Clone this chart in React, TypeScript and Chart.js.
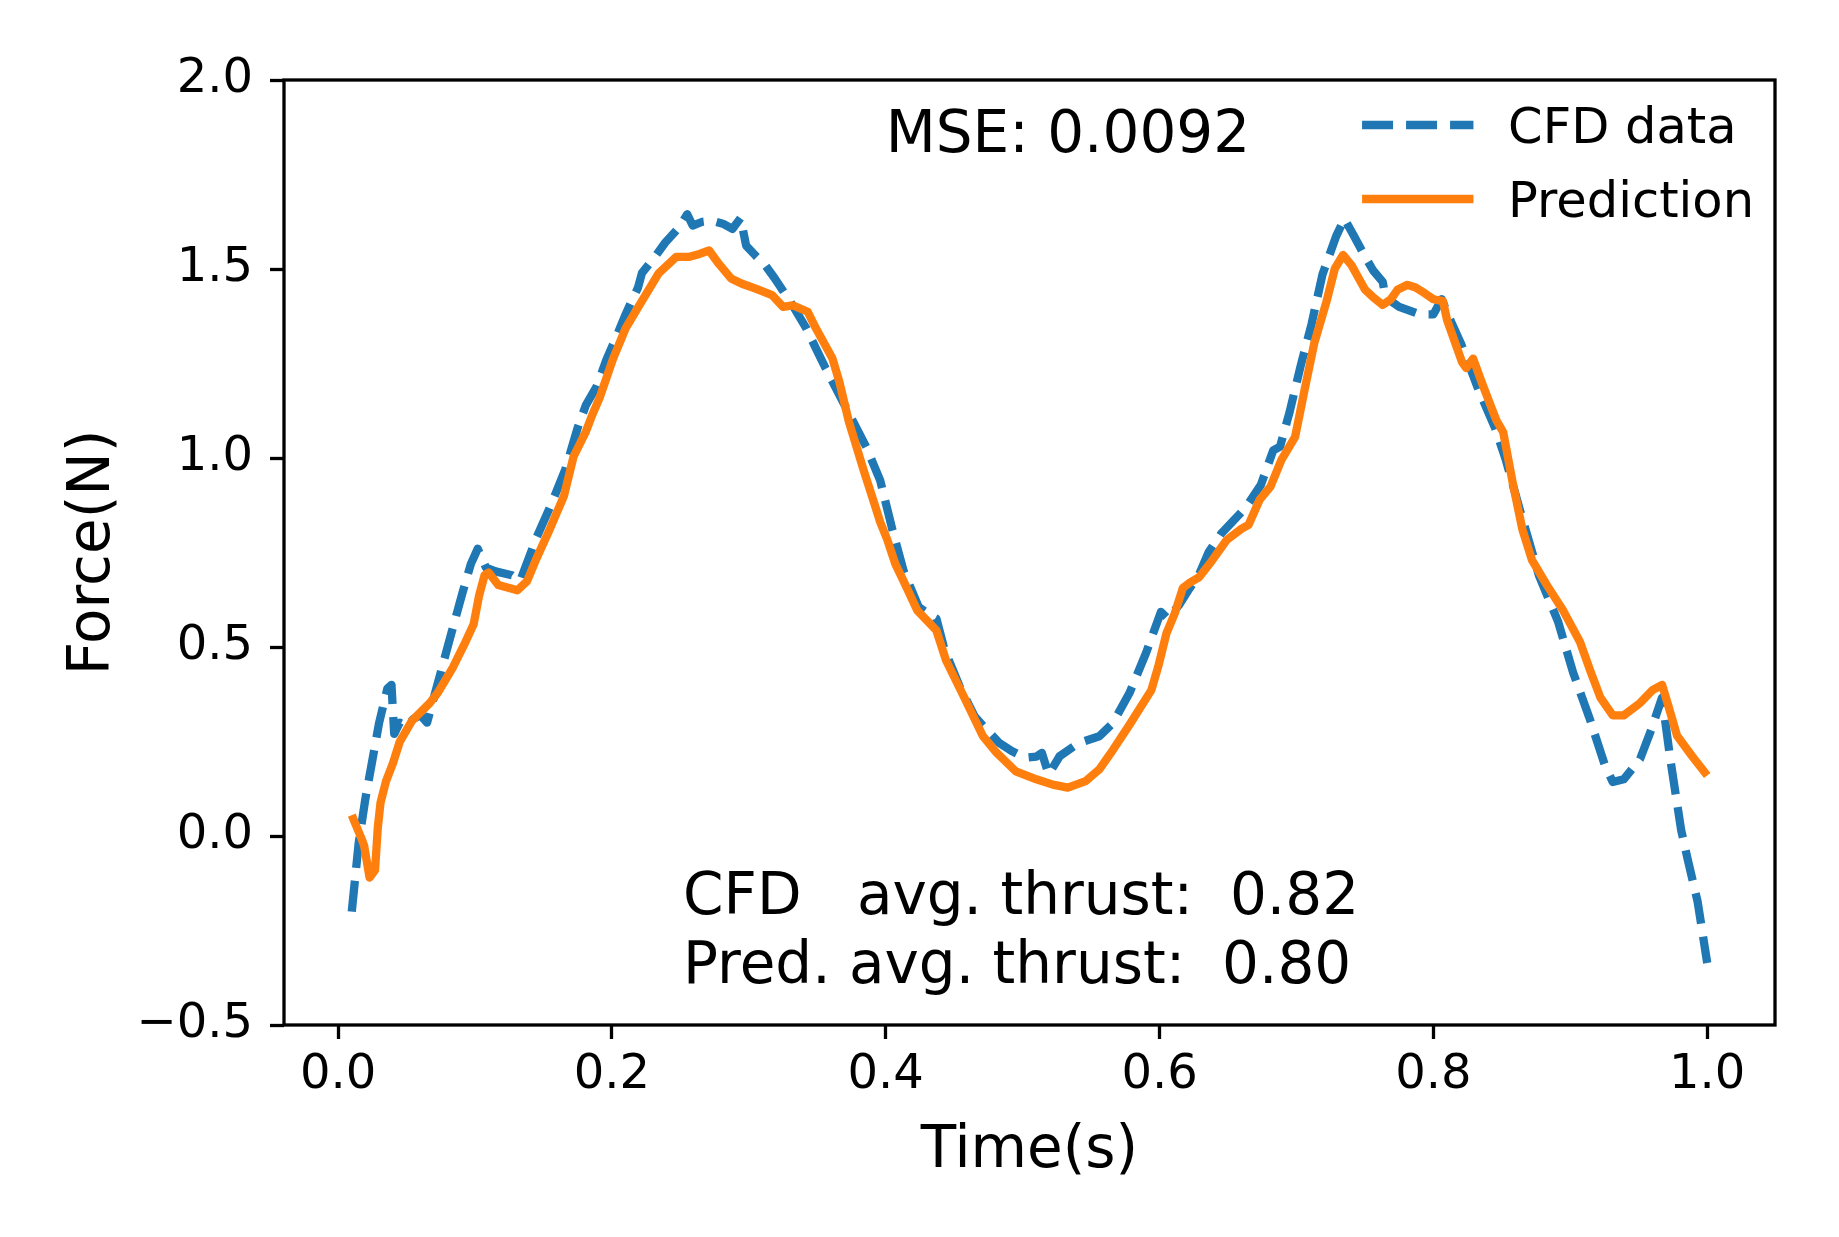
import { useEffect, useRef } from 'react';
import { Chart, registerables } from 'chart.js';

Chart.register(...registerables);

// values
const cfdTime = [
  0.010, 0.015, 0.020, 0.025, 0.030,
  0.036, 0.039, 0.041, 0.045, 0.050,
  0.055, 0.060, 0.065, 0.074, 0.083,
  0.091, 0.097, 0.102, 0.108, 0.115,
  0.127, 0.133, 0.145, 0.156, 0.166,
  0.175, 0.181, 0.189, 0.196, 0.202,
  0.210, 0.215, 0.219, 0.222, 0.231,
  0.239, 0.249, 0.255, 0.259, 0.266,
  0.273, 0.281, 0.288, 0.294, 0.298,
  0.305, 0.312, 0.319, 0.332, 0.342,
  0.349, 0.356, 0.371, 0.386, 0.396,
  0.405, 0.413, 0.424, 0.432, 0.437,
  0.443, 0.454, 0.465, 0.474, 0.483,
  0.492, 0.502, 0.510, 0.514, 0.519,
  0.527, 0.541, 0.556, 0.566, 0.578,
  0.590, 0.601, 0.606, 0.614, 0.621,
  0.629, 0.636, 0.645, 0.655, 0.663,
  0.674, 0.679, 0.683, 0.688, 0.695,
  0.703, 0.711, 0.719, 0.729, 0.735,
  0.742, 0.749, 0.756, 0.763, 0.765,
  0.775, 0.790, 0.800, 0.806, 0.813,
  0.820, 0.833, 0.845, 0.853, 0.863,
  0.877, 0.891, 0.902, 0.914, 0.925,
  0.931, 0.939, 0.951, 0.959, 0.967,
  0.973, 0.981, 0.986, 0.993, 1.000,
];
const cfdForce = [
  -0.20, -0.02, 0.10, 0.20, 0.30,
  0.39, 0.40, 0.27, 0.30, 0.29,
  0.31, 0.32, 0.30, 0.42, 0.54,
  0.645, 0.72, 0.76, 0.71, 0.70,
  0.69, 0.675, 0.79, 0.88, 0.97,
  1.08, 1.14, 1.19, 1.26, 1.31,
  1.38, 1.42, 1.45, 1.49, 1.53,
  1.57, 1.61, 1.645, 1.615, 1.625,
  1.628, 1.62, 1.606, 1.635, 1.562,
  1.535, 1.51, 1.475, 1.404, 1.343,
  1.29, 1.238, 1.133, 1.027, 0.94,
  0.808, 0.702, 0.606, 0.585, 0.575,
  0.492, 0.395, 0.316, 0.28, 0.246,
  0.225, 0.207, 0.21, 0.22, 0.163,
  0.211, 0.246, 0.264, 0.299, 0.378,
  0.483, 0.593, 0.575, 0.61, 0.65,
  0.693, 0.752, 0.80, 0.838, 0.869,
  0.929, 0.98, 1.02, 1.03, 1.122,
  1.243, 1.354, 1.486, 1.587, 1.633,
  1.587, 1.54, 1.496, 1.466, 1.425,
  1.40, 1.38, 1.38, 1.42, 1.36,
  1.304, 1.18, 1.08, 0.994, 0.865,
  0.69, 0.568, 0.433, 0.312, 0.19,
  0.143, 0.15, 0.204, 0.28, 0.366,
  0.204, 0.015, -0.066, -0.174, -0.336,
];

const predTime = [
  0.010, 0.017, 0.019, 0.023, 0.027, 0.029,
  0.031, 0.035, 0.040, 0.045, 0.054, 0.067,
  0.073, 0.084, 0.093, 0.099, 0.103, 0.107,
  0.110, 0.117, 0.131, 0.138, 0.145, 0.155,
  0.165, 0.172, 0.181, 0.186, 0.191, 0.201,
  0.210, 0.220, 0.234, 0.247, 0.256, 0.264,
  0.271, 0.278, 0.287, 0.295, 0.305, 0.317,
  0.325, 0.332, 0.343, 0.349, 0.361, 0.366,
  0.373, 0.384, 0.391, 0.396, 0.401, 0.407,
  0.414, 0.423, 0.437, 0.444, 0.457, 0.471,
  0.481, 0.495, 0.510, 0.522, 0.533, 0.546,
  0.556, 0.566, 0.578, 0.594, 0.599, 0.605,
  0.611, 0.617, 0.622, 0.629, 0.638, 0.649,
  0.660, 0.665, 0.673, 0.681, 0.689, 0.699,
  0.706, 0.713, 0.722, 0.728, 0.734, 0.740,
  0.750, 0.756, 0.763, 0.769, 0.774, 0.781,
  0.787, 0.794, 0.800, 0.807, 0.810, 0.815,
  0.821, 0.824, 0.829, 0.835, 0.842, 0.846,
  0.851, 0.858, 0.865, 0.872, 0.883, 0.895,
  0.907, 0.915, 0.922, 0.931, 0.939, 0.951,
  0.960, 0.967, 0.971, 0.978, 0.989, 1.000,
];
const predForce = [
  0.055, -0.006, -0.025, -0.11, -0.09, 0.022,
  0.088, 0.145, 0.192, 0.249, 0.305, 0.352,
  0.38, 0.447, 0.513, 0.56, 0.636, 0.69,
  0.697, 0.664, 0.65, 0.674, 0.735, 0.815,
  0.90, 1.004, 1.07, 1.117, 1.159, 1.264,
  1.343, 1.404, 1.488, 1.532, 1.532, 1.54,
  1.549, 1.514, 1.475, 1.461, 1.448, 1.431,
  1.40, 1.404, 1.387, 1.343, 1.264, 1.203,
  1.097, 0.966, 0.887, 0.83, 0.785, 0.72,
  0.667, 0.597, 0.544, 0.465, 0.369, 0.264,
  0.22, 0.171, 0.15, 0.136, 0.128, 0.145,
  0.176, 0.228, 0.294, 0.386, 0.448, 0.536,
  0.588, 0.656, 0.67, 0.685, 0.727, 0.783,
  0.813, 0.823, 0.889, 0.924, 0.995, 1.056,
  1.182, 1.304, 1.415, 1.501, 1.537, 1.511,
  1.446, 1.425, 1.405, 1.42, 1.446, 1.458,
  1.451, 1.435, 1.42, 1.415, 1.365, 1.314,
  1.253, 1.238, 1.263, 1.203, 1.137, 1.10,
  1.068, 0.933, 0.811, 0.73, 0.663, 0.595,
  0.514, 0.433, 0.366, 0.319, 0.319, 0.352,
  0.386, 0.40, 0.352, 0.265, 0.211, 0.16,
];

const xTicks = [0.0, 0.2, 0.4, 0.6, 0.8, 1.0];
const yTicks = [-0.5, 0.0, 0.5, 1.0, 1.5, 2.0];
const seriesNames = ['CFD data', 'Prediction'];
const mseText = 'MSE: 0.0092';
const thrustText = ['CFD   avg. thrust:  0.82', 'Pred. avg. thrust:  0.80'];

const W = 1839;
const H = 1237;
const PLOT = { left: 284, top: 80, right: 1775, bottom: 1025 };
const FONT = '"DejaVu Sans", sans-serif';
const BLUE = '#1f77b4';
const ORANGE = '#ff7f0e';
const LW = 8.3;
const DASH = [31, 13];

const fmt = (v: number) => v.toFixed(1).replace('-', '\u2212');

const overlay = {
  id: 'overlay',
  afterDraw(chart: any) {
    const { ctx, chartArea: a, scales } = chart;
    ctx.save();

    // axes frame
    ctx.strokeStyle = '#000';
    ctx.lineWidth = 3.3;
    ctx.setLineDash([]);
    ctx.strokeRect(a.left, a.top, a.right - a.left, a.bottom - a.top);

    ctx.fillStyle = '#000';
    ctx.textBaseline = 'alphabetic';
    ctx.textAlign = 'left';

    // annotations in data coordinates
    ctx.font = `58px ${FONT}`;
    ctx.fillText(mseText, scales.x.getPixelForValue(0.4), scales.y.getPixelForValue(1.81));
    ctx.fillText(thrustText[0], scales.x.getPixelForValue(0.252), scales.y.getPixelForValue(-0.206));
    ctx.fillText(thrustText[1], scales.x.getPixelForValue(0.252), scales.y.getPixelForValue(-0.388));

    // legend, upper right, no frame
    const fs = 49.5;
    ctx.font = `${fs}px ${FONT}`;
    const textW = Math.max(...seriesNames.map((n) => ctx.measureText(n).width));
    const textX = a.right - 21 - textW;
    const hEnd = textX - 0.7 * fs;
    const hStart = hEnd - 2.25 * fs;
    const rows = [a.top + 45, a.top + 119];
    const colors = [BLUE, ORANGE];
    rows.forEach((ry, i) => {
      ctx.strokeStyle = colors[i];
      ctx.lineWidth = LW;
      ctx.lineCap = 'butt';
      ctx.setLineDash(i === 0 ? DASH : []);
      ctx.beginPath();
      ctx.moveTo(hStart, ry);
      ctx.lineTo(hEnd, ry);
      ctx.stroke();
      ctx.fillText(seriesNames[i], textX, ry + 0.3645 * fs);
    });

    ctx.restore();
  },
};

export default function App() {
  const canvasRef = useRef<HTMLCanvasElement>(null);

  useEffect(() => {
    document.body.style.margin = '0';
    const xMin = cfdTime[0];
    const xMax = cfdTime[cfdTime.length - 1];
    const pad = 0.05 * (xMax - xMin);

    const chart = new Chart(canvasRef.current as HTMLCanvasElement, {
      type: 'line',
      data: {
        datasets: [
          {
            label: seriesNames[0],
            data: cfdTime.map((t, i) => ({ x: t, y: cfdForce[i] })),
            borderColor: BLUE,
            borderWidth: LW,
            borderDash: DASH,
            borderCapStyle: 'butt',
            borderJoinStyle: 'round',
            pointRadius: 0,
            tension: 0,
            fill: false,
            order: 1,
          },
          {
            label: seriesNames[1],
            data: predTime.map((t, i) => ({ x: t, y: predForce[i] })),
            borderColor: ORANGE,
            borderWidth: LW,
            borderCapStyle: 'butt',
            borderJoinStyle: 'round',
            pointRadius: 0,
            tension: 0,
            fill: false,
            order: 0,
          },
        ],
      },
      options: {
        animation: false,
        responsive: true,
        maintainAspectRatio: false,
        devicePixelRatio: 1,
        layout: { padding: { left: 0, top: PLOT.top, right: W - PLOT.right, bottom: 0 } },
        plugins: { legend: { display: false }, tooltip: { enabled: false } },
        scales: {
          x: {
            type: 'linear',
            min: xMin - pad,
            max: xMax + pad,
            afterBuildTicks: (s: any) => { s.ticks = xTicks.map((value) => ({ value })); },
            afterFit: (s: any) => { s.height = H - PLOT.bottom; },
            ticks: {
              autoSkip: false,
              maxRotation: 0,
              padding: 13,
              color: '#000',
              font: { family: FONT, size: 48, lineHeight: 1 },
              callback: (v: any) => fmt(Number(v)),
            },
            grid: { drawOnChartArea: false, drawTicks: true, tickLength: 14, tickWidth: 3.3, tickColor: '#000' },
            border: { display: false },
            title: {
              display: true,
              text: 'Time(s)',
              color: '#000',
              font: { family: FONT, size: 58, lineHeight: 1 },
              padding: { top: 0, bottom: 56 },
            },
          },
          y: {
            type: 'linear',
            min: yTicks[0],
            max: yTicks[yTicks.length - 1],
            afterBuildTicks: (s: any) => { s.ticks = yTicks.map((value) => ({ value })); },
            afterFit: (s: any) => { s.width = PLOT.left; },
            ticks: {
              autoSkip: false,
              padding: 17,
              color: '#000',
              font: { family: FONT, size: 48, lineHeight: 1 },
              callback: (v: any) => fmt(Number(v)),
            },
            grid: { drawOnChartArea: false, drawTicks: true, tickLength: 14, tickWidth: 3.3, tickColor: '#000' },
            border: { display: false },
            title: {
              display: true,
              text: 'Force(N)',
              color: '#000',
              font: { family: FONT, size: 58, lineHeight: 1 },
              padding: { top: 65, bottom: 0 },
            },
          },
        },
      },
      plugins: [overlay],
    } as any);
    return () => chart.destroy();
  }, []);

  return (
    <div style={{ width: W, height: H, position: 'relative', background: '#fff' }}>
      <canvas ref={canvasRef} />
    </div>
  );
}
